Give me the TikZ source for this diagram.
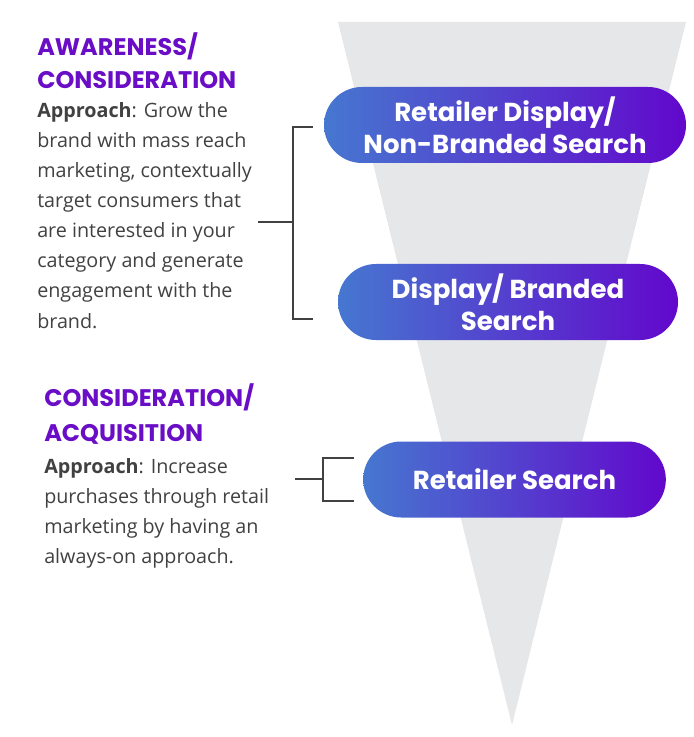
\documentclass[tikz,border=0pt]{standalone}
\usepackage{fontspec}
\setmainfont{Open Sans}
\newfontfamily\popfont{Poppins}
\usepackage{tikz}
\usetikzlibrary{positioning,calc}
\definecolor{funnel}{HTML}{E6E7E9}
\definecolor{headc}{HTML}{6A0DC6}
\definecolor{bodyc}{HTML}{414141}
\definecolor{pillL}{HTML}{4677D0}
\definecolor{pillR}{HTML}{6208CC}

\begin{document}
\begin{tikzpicture}[x=0.75pt, y=-0.75pt,
  pill/.style={rounded corners=28.5pt, left color=pillL, right color=pillR, text=white, align=center,
    minimum height=57pt, inner sep=0pt, font=\popfont\bfseries\fontsize{19.5}{24}\selectfont},
  head/.style={anchor=base west, align=left, inner sep=0pt, text=headc, font=\popfont\bfseries\fontsize{18}{24.75}\selectfont},
  body/.style={anchor=base west, align=left, inner sep=0pt, text=bodyc, font=\fontsize{14.8}{22.5}\selectfont},
  brace/.style={draw=bodyc, line width=1.4pt}]
  \useasboundingbox (0,0) rectangle (693,737);
  % funnel
  \fill[funnel] (338,22) -- (686,22) -- (512,725) -- cycle;
  % stages
  \node[pill, minimum width=271.5pt] (rdisp) at (505,125) {Retailer Display/\\Non-Branded Search};
  \node[pill, minimum width=255pt] (dbrand) at (508,302) {Display/ Branded\\Search};
  \node[pill, minimum width=227pt] (rsearch) at (514.5,479.5) {Retailer Search};
  % awareness / consideration
  \node[head] (aware) at (37,89) {AWARENESS/\\CONSIDERATION};
  \node[body] (awtxt) at (37,328) {\textbf{Approach}: Grow the\\brand with mass reach\\marketing, contextually\\target consumers that\\are interested in your\\category and generate\\engagement with the\\brand.};
  % consideration / acquisition
  \node[head, font=\popfont\bfseries\fontsize{18}{26.25}\selectfont] (acq) at (44,441) {CONSIDERATION/\\ACQUISITION};
  \node[body] (acqtxt) at (44,563) {\textbf{Approach}: Increase\\purchases through retail\\marketing by having an\\always-on approach.};
  % brackets
  \coordinate (s1) at (258,222);
  \coordinate (k1) at (293,222);
  \coordinate (t1) at ($(rdisp.west)+(-11,2)$);
  \coordinate (u1) at ($(dbrand.west)+(-25,17)$);
  \draw[brace] (s1) -- (k1);
  \draw[brace] (t1) -| (k1) |- (u1);
  \coordinate (s2) at (295,479);
  \coordinate (k2) at (323,479);
  \coordinate (t2) at ($(rsearch.west)+(-9,-21.5)$);
  \coordinate (u2) at ($(rsearch.west)+(-9,21.5)$);
  \draw[brace] (s2) -- (k2);
  \draw[brace] (t2) -| (k2) |- (u2);
\end{tikzpicture}
\end{document}
